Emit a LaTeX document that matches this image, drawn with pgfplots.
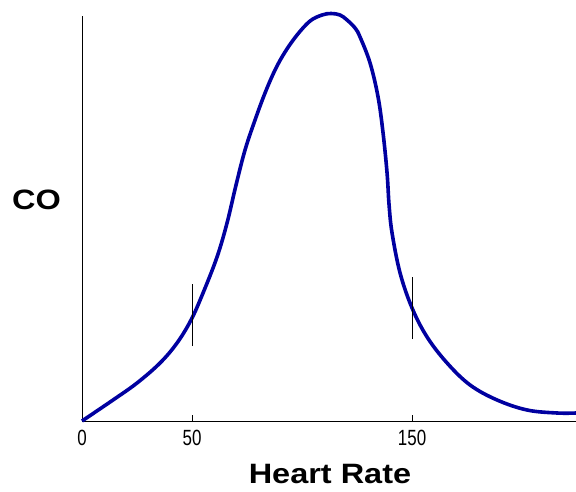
\documentclass[border=0pt]{standalone}
\usepackage{fontspec}
\setmainfont{Liberation Sans}
\newfontfamily\narrowfont[FakeStretch=0.77]{Liberation Sans}
\newfontfamily\widefont[FakeStretch=1.16]{Liberation Sans}
\usepackage{pgfplots}
\pgfplotsset{compat=1.18}
\definecolor{curveblue}{RGB}{0,0,160}
\begin{document}
\begin{tikzpicture}
\useasboundingbox (-82pt,-70pt) rectangle (494pt,421pt);
\begin{axis}[
  scale only axis,
  width=494pt, height=405pt,
  xmin=0, xmax=224.5, ymin=0, ymax=405,
  axis lines=left,
  axis line style={-, line width=0.8pt},
  clip=false,
  xtick={0,50,150},
  ytick=\empty,
  tick align=inside,
  major tick length=6pt,
  tick style={black, line width=0.8pt},
  xticklabel style={font=\narrowfont\fontsize{22}{22}\selectfont, inner sep=0pt, yshift=-9pt},
  /pgf/number format/assume math mode=true,
]
\addplot[curveblue, line width=3.6pt, smooth, tension=0.6] coordinates {
(0,0) (14.09,21) (25,38) (35.45,58) (43.18,78) (49.55,101) (55,128) (61.36,164)
(65.91,198) (70,236) (74.09,271) (78.64,301) (83.18,328) (87.73,351) (92.27,369)
(97.73,386) (103.64,400) (109.09,406) (113.18,407.5) (117.27,406) (120.45,401)
(124.09,393) (126.36,384) (130.91,358) (134.55,324) (136.82,288) (138.64,248)
(139.55,216) (140.91,188) (144.55,148) (150,113) (156.82,84) (165.91,58)
(176.36,36) (188.64,21) (202.27,11) (215.91,8) (224.5,8)
};
\addplot[black, line width=1pt] coordinates {(50,75) (50,137)};
\addplot[black, line width=1pt] coordinates {(150,82) (150,144)};
\end{axis}
\node[anchor=base, inner sep=0pt, font=\widefont\bfseries\fontsize{28}{28}\selectfont] at (248pt,-62pt) {Heart Rate};
\node[anchor=center, inner sep=0pt, font=\widefont\bfseries\fontsize{28}{28}\selectfont] at (-45.5pt,221pt) {CO};
\end{tikzpicture}
\end{document}
